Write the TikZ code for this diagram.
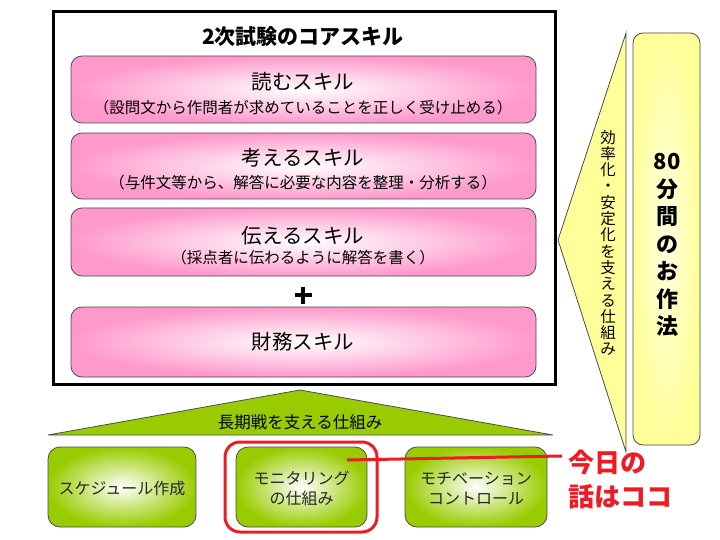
\documentclass[tikz,border=0pt]{standalone}
\usepackage{fontspec}
\setmainfont{Noto Sans CJK JP}
\newcommand\jfs[2]{\fontsize{#1}{#2}\selectfont}
\definecolor{pinkc}{RGB}{255,153,204}
\definecolor{greenc}{RGB}{153,204,0}
\definecolor{yelc}{RGB}{255,255,153}
\definecolor{yelin}{RGB}{255,255,225}
\definecolor{redc}{RGB}{237,28,36}
\begin{document}
\begin{tikzpicture}[x=1pt,y=-1pt,
  pinkbox/.style={draw=black!70, line width=0.8pt, rounded corners=11pt, inner color=white, outer color=pinkc, minimum width=465pt},
  greenbox/.style={draw=black!70, line width=0.8pt, rounded corners=12pt, inner color=white, outer color=greenc, minimum height=80pt},
  headtxt/.style={font=\jfs{20.5}{24}},
  subtxt/.style={font=\jfs{15.5}{18}},
  gtxt/.style={font=\jfs{16}{20}, align=center, text=black!85},
  vtxt/.style={align=center, inner sep=0pt}
]
\useasboundingbox (0,0) rectangle (720,540);

% outer box
\draw[line width=3pt] (53,12) rectangle (555,384);
\node[font=\bfseries\jfs{21}{24}] (title) at (303,37) {2次試験のコアスキル};

% pink boxes
\node[pinkbox, minimum height=67pt] (r1) at (303.5,89.5) {};
\node[headtxt] (t1) at (303,82) {読むスキル};
\node[subtxt] (s1) at (303,107.5) {（設問文から作問者が求めていることを正しく受け止める）};

\node[pinkbox, minimum height=66pt] (r2) at (303.5,166) {};
\node[headtxt] (t2) at (303,157.5) {考えるスキル};
\node[subtxt] (s2) at (303,183) {（与件文等から、解答に必要な内容を整理・分析する）};

\node[pinkbox, minimum height=68pt] (r3) at (303.5,242) {};
\node[headtxt] (t3) at (303,236) {伝えるスキル};
\node[subtxt] (s3) at (303,258) {（採点者に伝わるように解答を書く）};

\draw[line width=4pt] (294.5,295) -- (311.5,295) (303,286.5) -- (303,303.5);

\node[pinkbox, minimum height=70pt] (r4) at (303.5,342) {};
\node[headtxt] (t4) at (303,342) {財務スキル};

% right side
\draw[fill=yelc, draw=black!70, line width=0.8pt] (626,33) -- (558,240) -- (626,452) -- cycle;
\node[vtxt, font=\jfs{15.5}{16.3}] (tri) at (608,243) {効\\率\\化\\・\\安\\定\\化\\を\\支\\え\\る\\仕\\組\\み};
\draw[draw=black!70, line width=0.8pt, rounded corners=10pt, inner color=yelin, outer color=yelc] (633,33) rectangle (700,445);
\node[vtxt, font=\bfseries\jfs{22}{27.5}] (saho) at (667,245) {80\\分\\間\\の\\お\\作\\法};

% bottom
\draw[fill=greenc, draw=black!70, line width=0.8pt] (48,435) -- (300,390) -- (553,435) -- cycle;
\node[font=\jfs{16.5}{20}] (choki) at (300,422) {長期戦を支える仕組み};

\node[greenbox, minimum width=148pt] (g1) at (122,487) {};
\node[gtxt] (g1t) at (122,488) {スケジュール作成};
\node[greenbox, minimum width=131pt] (g2) at (301.5,487) {};
\node[gtxt] (g2t) at (301.5,488) {モニタリング\\の仕組み};
\node[greenbox, minimum width=142pt] (g3) at (476,487) {};
\node[gtxt] (g3t) at (476,488.5) {モチベーション\\コントロール};

% red annotation
\draw[redc, line width=3pt, rounded corners=15pt] (225,442) rectangle (377,532);
\coordinate (la) at (347,460);
\coordinate (lb) at (562,456);
\draw[redc, line width=3pt] (la) -- (lb);
\node[text=redc, font=\bfseries\jfs{26}{34}, align=left, anchor=west, inner sep=0pt] (kyo) at (568,480) {今日の\\話はココ};
\end{tikzpicture}
\end{document}
